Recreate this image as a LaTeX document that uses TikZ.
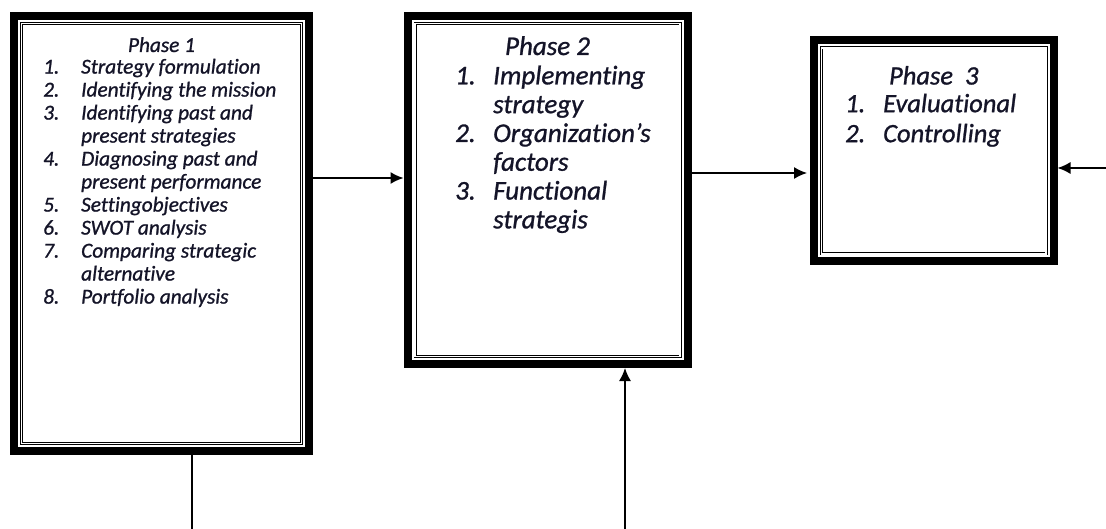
\documentclass[tikz,border=0pt]{standalone}
\usepackage{fontspec}
\setmainfont{Carlito}[Ligatures=NoCommon, ItalicFeatures={FakeBold=1}]
\usepackage{tikz}
\usetikzlibrary{arrows.meta, positioning}
\tikzset{>=Latex}
\definecolor{phaseink}{HTML}{141428}
\tikzstyle{line} = [draw, -{Latex[length=13pt, width=12pt]}, line width=1.4pt]
\tikzstyle{phase} = [draw, rectangle, line width=8pt, inner sep=0pt]
\tikzstyle{innerframe} = [draw, double, double distance=1.2pt, line width=0.9pt]
\tikzstyle{smalltext} = [inner sep=0pt, text=phaseink, font=\fontsize{21.3}{23}\selectfont\itshape]
\tikzstyle{bigtext} = [inner sep=0pt, text=phaseink, font=\fontsize{27}{28.8}\selectfont\itshape]
\tikzstyle{hugetext} = [inner sep=0pt, text=phaseink, font=\fontsize{26.5}{30}\selectfont\itshape]

\begin{document}
\begin{tikzpicture}[x=1pt, y=-1pt]
    \useasboundingbox (0,0) rectangle (1106,529);

    % Create Blocks
    \node [phase, minimum width=295pt, minimum height=435pt] (p1) at (161.5,233.5) {};
    \node [phase, minimum width=280pt, minimum height=348pt] (p2) at (547.5,190) {};
    \node [phase, minimum width=239.5pt, minimum height=221pt] (p3) at (933.75,151) {};

    \foreach \b in {p1,p2,p3}
        \path [innerframe] ([shift={(11.5pt,-11.5pt)}]\b.north west) rectangle ([shift={(-11.5pt,11.5pt)}]\b.south east);

    % Add Texts
    \node [smalltext, anchor=base] (h1) at ([yshift=-40pt]p1.north) {Phase 1};
    \node [smalltext, below right=45.3pt and 33pt of p1.north west] (l1) {%
        \begin{tabular}{@{}p{38pt}@{}l@{}}
        1. & Strategy formulation\\
        2. & Identifying the mission\\
        3. & Identifying past and\\
           & present strategies\\
        4. & Diagnosing past and\\
           & present performance\\
        5. & Settingobjectives\\
        6. & SWOT analysis\\
        7. & Comparing strategic\\
           & alternative\\
        8. & Portfolio analysis
        \end{tabular}};

    \node [bigtext, anchor=base] (h2) at ([yshift=-43pt]p2.north) {Phase 2};
    \node [bigtext, below right=52pt and 51.5pt of p2.north west] (l2) {%
        \begin{tabular}{@{}p{38pt}@{}l@{}}
        1. & Implementing\\
           & strategy\\
        2. & Organization’s\\
           & factors\\
        3. & Functional\\
           & strategis
        \end{tabular}};

    \node [hugetext, anchor=base] (h3) at ([yshift=-48pt]p3.north) {Phase\ \ 3};
    \node [hugetext, below right=54.5pt and 35pt of p3.north west] (l3) {%
        \begin{tabular}{@{}p{38pt}@{}l@{}}
        1. & Evaluational\\
        2. & Controlling
        \end{tabular}};

    % Free ends
    \coordinate (down1) at (192,529);
    \coordinate (up2) at (625,529);
    \coordinate (in3) at (1106,168);

    % Add Arrows
    \path [line] ([yshift=55.5pt]p1.east) -- ([yshift=55.5pt]p1.east -| p2.west);
    \path [line, shorten >=3pt] ([yshift=17pt]p2.east) -- ([yshift=17pt]p2.east -| p3.west);
    \path [line] (in3) -- (in3 -| p3.east);
    \path [line] (up2) -- (up2 |- p2.south);
    \draw [line width=1.4pt] (down1 |- p1.south) -- (down1);
\end{tikzpicture}
\end{document}
